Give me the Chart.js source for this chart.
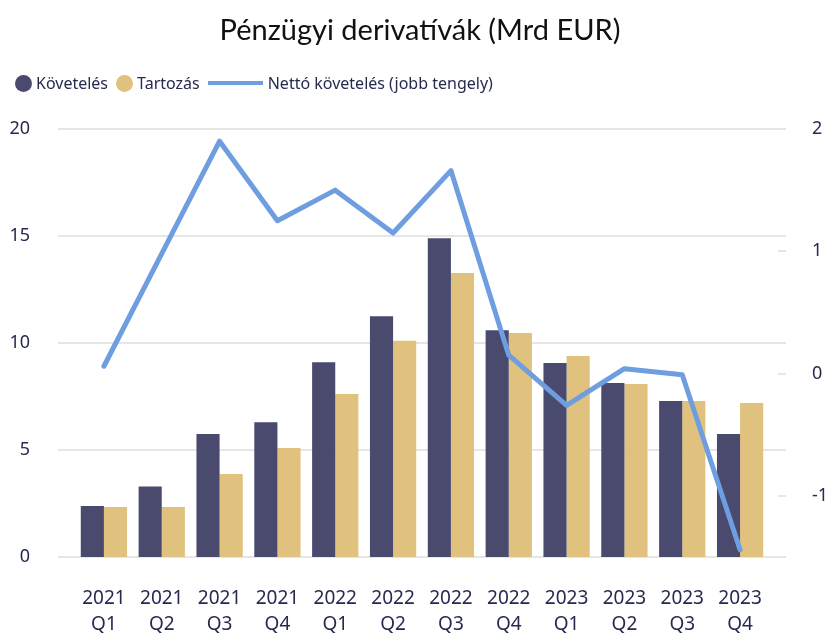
<!DOCTYPE html>
<html lang="hu">
<head>
<meta charset="utf-8">
<title>Pénzügyi derivatívák</title>
<script src="https://cdn.jsdelivr.net/npm/chart.js@4.4.1/dist/chart.umd.min.js"></script>
<style>
    html, body { margin: 0; padding: 0; background: #fff; }
    #wrap { position: relative; width: 830px; height: 633px; }
    #title {
        position: absolute; left: 0; top: 11px; width: 830px; text-align: center;
        font-family: Lato, sans-serif; font-size: 29px; color: #111; padding-left: 10px; box-sizing: border-box;
    }
    #legend {
        position: absolute; left: 15px; top: 72px; display: flex; align-items: center;
        font-family: 'Noto Sans', sans-serif; font-size: 16px; color: #262a4f;
    }
    #legend .item { display: flex; align-items: center; margin-right: 8px; }
    #legend .dot { width: 17px; height: 17px; border-radius: 50%; margin-right: 4px; }
    #legend .bar { width: 55px; height: 4px; margin-right: 5px; }
</style>
</head>
<body>
<div id="wrap">
    <div id="title">Pénzügyi derivatívák (Mrd EUR)</div>
    <div id="legend"></div>
    <canvas id="derivChart" width="830" height="633"></canvas>
</div>
<script>
    const quarters = [
        ['2021', 'Q1'], ['2021', 'Q2'], ['2021', 'Q3'], ['2021', 'Q4'],
        ['2022', 'Q1'], ['2022', 'Q2'], ['2022', 'Q3'], ['2022', 'Q4'],
        ['2023', 'Q1'], ['2023', 'Q2'], ['2023', 'Q3'], ['2023', 'Q4']
    ];
    const receivables = [2.38, 3.3, 5.75, 6.3, 9.1, 11.25, 14.9, 10.6, 9.07, 8.13, 7.29, 5.75];
    const liabilities = [2.34, 2.34, 3.88, 5.09, 7.62, 10.1, 13.27, 10.47, 9.39, 8.08, 7.29, 7.2];
    const netPosition = [0.06, 0.98, 1.9, 1.25, 1.5, 1.15, 1.66, 0.15, -0.26, 0.04, -0.01, -1.44];

    const leftTicks = [0, 5, 10, 15, 20];
    const rightTicks = [-1, 0, 1, 2];

    const textColor = '#262a4f';
    const gridColor = '#e6e6e6';

    // y gridlines run a bit past the bar area, like the source chart
    const extendedGrid = {
        id: 'extendedGrid',
        beforeDatasetsDraw(chart) {
            const { ctx, chartArea, scales } = chart;
            ctx.save();
            ctx.strokeStyle = gridColor;
            ctx.lineWidth = 2;
            scales.y.ticks.forEach(t => {
                const y = Math.round(scales.y.getPixelForValue(t.value));
                ctx.beginPath();
                ctx.moveTo(chartArea.left - 17, y);
                ctx.lineTo(chartArea.right + 17, y);
                ctx.stroke();
            });
            scales.y1.ticks.forEach(t => {
                const y = Math.round(scales.y1.getPixelForValue(t.value));
                ctx.beginPath();
                ctx.moveTo(chartArea.right + 9, y);
                ctx.lineTo(chartArea.right + 17, y);
                ctx.stroke();
            });
            ctx.restore();
        }
    };

    function buildLegend(datasets) {
        const box = document.getElementById('legend');
        box.innerHTML = '';
        datasets.forEach(ds => {
            const item = document.createElement('span');
            item.className = 'item';
            const mark = document.createElement('span');
            if (ds.type === 'line') {
                mark.className = 'bar';
                mark.style.background = ds.borderColor;
            } else {
                mark.className = 'dot';
                mark.style.background = ds.backgroundColor;
            }
            item.appendChild(mark);
            item.appendChild(document.createTextNode(ds.label));
            box.appendChild(item);
        });
    }

    document.addEventListener('DOMContentLoaded', () => {
        Chart.defaults.font.family = "'Noto Sans', sans-serif";
        Chart.defaults.color = textColor;

        const chart = new Chart(document.getElementById('derivChart'), {
            type: 'bar',
            data: {
                labels: quarters,
                datasets: [
                    {
                        type: 'line',
                        label: 'Nettó követelés (jobb tengely)',
                        data: netPosition,
                        yAxisID: 'y1',
                        borderColor: '#6f9ee0',
                        borderWidth: 5,
                        borderCapStyle: 'round',
                        borderJoinStyle: 'round',
                        pointRadius: 0,
                        tension: 0,
                        order: 0
                    },
                    {
                        label: 'Követelés',
                        data: receivables,
                        backgroundColor: '#494a6e',
                        categoryPercentage: 0.8,
                        barPercentage: 1.0,
                        order: 1
                    },
                    {
                        label: 'Tartozás',
                        data: liabilities,
                        backgroundColor: '#e0c17d',
                        categoryPercentage: 0.8,
                        barPercentage: 1.0,
                        order: 1
                    }
                ]
            },
            options: {
                responsive: false,
                animation: false,
                layout: { padding: { top: 129, left: 0, right: 0, bottom: 0 } },
                plugins: {
                    legend: { display: false },
                    title: { display: false },
                    tooltip: { enabled: false }
                },
                scales: {
                    x: {
                        grid: { display: false },
                        border: { display: false },
                        ticks: { font: { size: 19, lineHeight: 1.4 }, padding: 20, maxRotation: 0, autoSkip: false },
                        afterFit: s => { s.height = 76; }
                    },
                    y: {
                        position: 'left',
                        min: 0,
                        max: 20,
                        afterBuildTicks: s => { s.ticks = leftTicks.map(v => ({ value: v })); },
                        grid: { display: false },
                        border: { display: false },
                        ticks: { font: { size: 18 }, padding: 37 },
                        afterFit: s => { s.width = 75; }
                    },
                    y1: {
                        position: 'right',
                        min: -1.5,
                        max: 2,
                        afterBuildTicks: s => { s.ticks = rightTicks.map(v => ({ value: v })); },
                        grid: { display: false },
                        border: { display: false },
                        ticks: { font: { size: 18 }, padding: 35 },
                        afterFit: s => { s.width = 61; }
                    }
                }
            },
            plugins: [extendedGrid]
        });

        // legend order in the source: bars first, then the line
        buildLegend([1, 2, 0].map(i => chart.data.datasets[i]));
    });
</script>
</body>
</html>
